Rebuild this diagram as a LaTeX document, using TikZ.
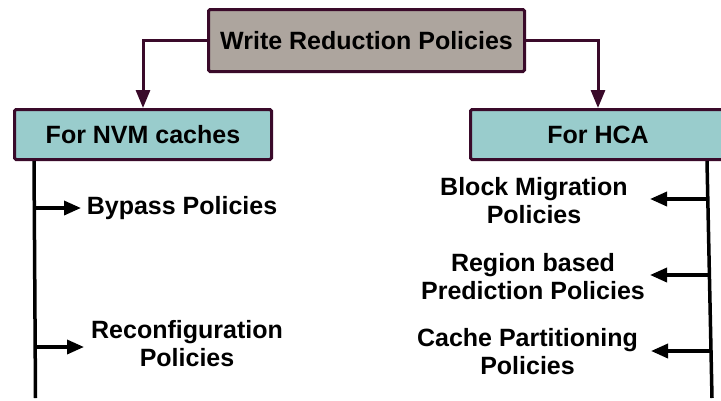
\documentclass[tikz,border=0pt]{standalone}
\usepackage{fontspec}
\setmainfont{Liberation Sans}
\usetikzlibrary{arrows.meta}
\definecolor{titlefill}{HTML}{ADA59E}
\definecolor{boxborder}{HTML}{3A0A2A}
\definecolor{tealfill}{HTML}{99CCCC}
\tikzset{
  lbl/.style={font=\fontsize{25}{28}\selectfont\bfseries, align=center, inner sep=2pt},
  titlebox/.style={lbl, draw=boxborder, fill=titlefill, line width=3pt, rounded corners=1.5pt,
    minimum width=316pt, minimum height=62pt},
  catbox/.style={lbl, draw=boxborder, fill=tealfill, line width=3pt, rounded corners=1.5pt,
    minimum height=50pt},
  topconn/.style={draw=boxborder, line width=3pt, -{Triangle[length=18pt,width=14pt]}},
  spine/.style={draw=black, line width=3.5pt},
  branch/.style={draw=black, line width=3.5pt, -{Triangle[length=17pt,width=14pt]}}
}
\begin{document}
\begin{tikzpicture}[x=1pt,y=-1pt]
\useasboundingbox (0,0) rectangle (721,400);
\node[titlebox] (title) at (366.5,40.5) {Write Reduction Policies};
\node[catbox, minimum width=257pt] (nvm) at (143,134.5) {For NVM caches};
\node[catbox, minimum width=255pt] (hca) at (598,134.5) {For HCA};
\draw[topconn] (title.west) -| (nvm.north);
\draw[topconn] (title.east) -| (hca.north);
% left side
\coordinate (ls) at (34,161);
\coordinate (le) at (35.5,398);
\draw[spine] (nvm.south -| ls) -- (le);
\node[lbl] (byp) at (182,208.5) {Bypass Policies};
\node[lbl] (rec) at (187,344) {Reconfiguration\\Policies};
\coordinate (b1) at (34.5,208);
\coordinate (b2) at (35.2,347);
\coordinate (t1) at (81,208);
\coordinate (t2) at (84,347);
\draw[branch] (b1) -- (t1);
\draw[branch] (b2) -- (t2);
% right side
\coordinate (rs) at (707,161);
\coordinate (re) at (712,398);
\draw[spine] (rs) -- (re);
\node[lbl] (bm) at (534,201) {Block Migration\\Policies};
\node[lbl] (rb) at (533,277) {Region based\\Prediction Policies};
\node[lbl] (cp) at (527.5,352) {Cache Partitioning\\Policies};
\coordinate (c1) at (708.5,199);
\coordinate (c2) at (710,275);
\coordinate (c3) at (711.5,351);
\coordinate (u1) at (650,199);
\coordinate (u2) at (650,275);
\coordinate (u3) at (651,351);
\draw[branch] (c1) -- (u1);
\draw[branch] (c2) -- (u2);
\draw[branch] (c3) -- (u3);
\end{tikzpicture}
\end{document}
